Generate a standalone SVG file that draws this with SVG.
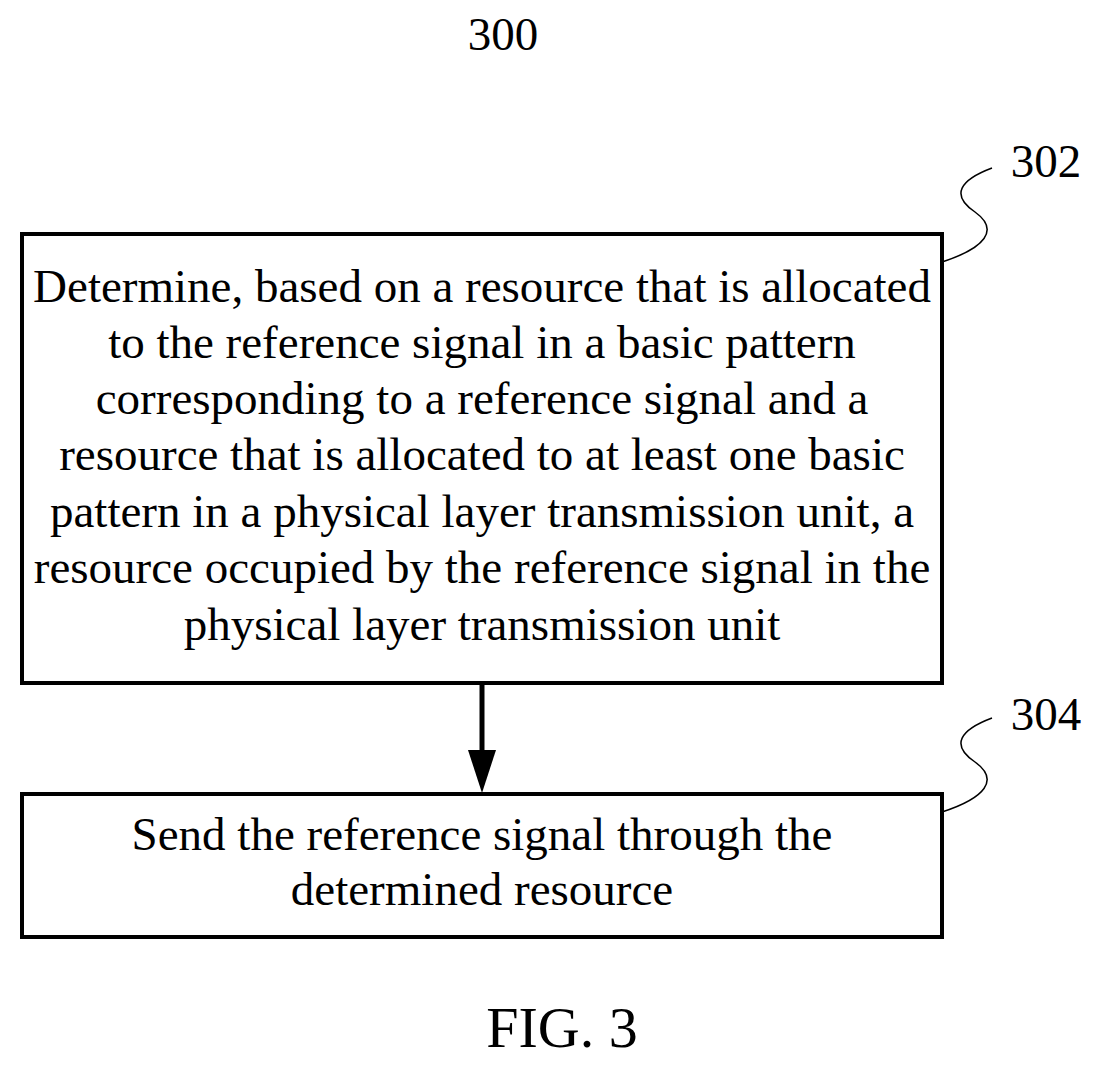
<svg xmlns="http://www.w3.org/2000/svg" width="1101" height="1069" viewBox="0 0 1101 1069">
<style>
.b{fill:#fff;stroke:#000;stroke-width:4}
.t{font-family:"Liberation Serif",serif;font-size:47px;text-anchor:middle;fill:#000}
.s{fill:none;stroke:#000;stroke-width:1.5}
</style>
<rect width="1101" height="1069" fill="#fff"/>
<text class="t" x="503" y="50">300</text>
<g id="n302">
<rect class="b" x="22" y="234" width="920" height="449"/>
<text class="t" x="482" y="302">Determine, based on a resource that is allocated</text>
<text class="t" x="482" y="358">to the reference signal in a basic pattern</text>
<text class="t" x="482" y="414">corresponding to a reference signal and a</text>
<text class="t" x="482" y="470">resource that is allocated to at least one basic</text>
<text class="t" x="482" y="527">pattern in a physical layer transmission unit, a</text>
<text class="t" x="482" y="583">resource occupied by the reference signal in the</text>
<text class="t" x="482" y="640">physical layer transmission unit</text>
<path class="s" d="M942,262 C985,248 1000,230 975,212 C950,195 960,180 992,168"/>
<text class="t" x="1046" y="177">302</text>
</g>
<g id="n304">
<rect class="b" x="22" y="794" width="920" height="143"/>
<text class="t" x="482" y="850">Send the reference signal through the</text>
<text class="t" x="482" y="905">determined resource</text>
<path class="s" d="M942,812 C985,798 1000,780 975,762 C950,745 960,730 992,718"/>
<text class="t" x="1046" y="730">304</text>
</g>
<g id="connectors">
<line x1="482" y1="683" x2="482" y2="752" stroke="#000" stroke-width="5"/>
<polygon points="468,750 496,750 482,793" fill="#000"/>
</g>
<text class="t" x="562" y="1047" style="font-size:58px">FIG. 3</text>
</svg>
